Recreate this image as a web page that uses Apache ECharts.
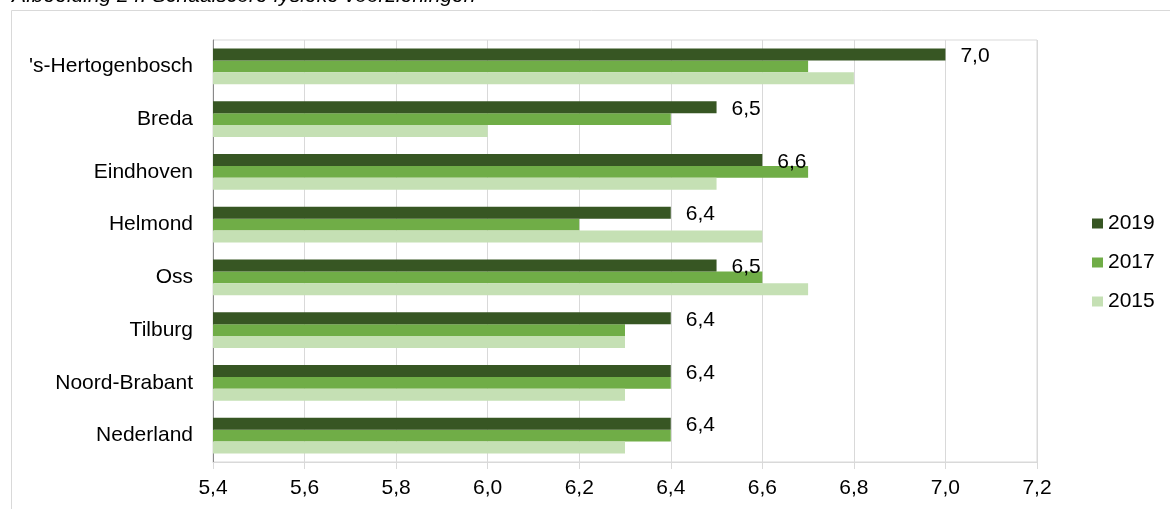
<!DOCTYPE html>
<html><head><meta charset="utf-8">
<script src="https://cdn.jsdelivr.net/npm/echarts@6/dist/echarts.min.js"></script>
<style>html,body{margin:0;padding:0;background:#fff}#c{width:1170px;height:509px}</style>
</head><body><div id="c"></div>
<script>
const categories = ["'s-Hertogenbosch", "Breda", "Eindhoven", "Helmond", "Oss", "Tilburg", "Noord-Brabant", "Nederland"];
const values2019 = [7.0, 6.5, 6.6, 6.4, 6.5, 6.4, 6.4, 6.4];
const values2017 = [6.7, 6.4, 6.7, 6.2, 6.6, 6.3, 6.4, 6.4];
const values2015 = [6.8, 6.0, 6.5, 6.6, 6.7, 6.3, 6.3, 6.3];
const seriesNames = ["2019", "2017", "2015"];
const xTicks = [5.4, 5.6, 5.8, 6.0, 6.2, 6.4, 6.6, 6.8, 7.0, 7.2];
const titleText = "Afbeelding 24: Schaalscore fysieke voorzieningen";

const FONT = "Liberation Sans, Arial, sans-serif";
const FS = 21;
const fmt = v => Number(v).toFixed(1).replace('.', ',');
const colors = ['#375623', '#70ad47', '#c5e0b4'];
const chart = echarts.init(document.getElementById('c'));
const dataSets = [values2019, values2017, values2015];
chart.setOption({
  animation: false,
  textStyle: {fontFamily: FONT},
  graphic: [
    {type: 'rect', shape: {x: 11.5, y: 10.5, width: 1300, height: 700}, style: {fill: 'none', stroke: '#d9d9d9', lineWidth: 1}, silent: true, z: -10},
    {type: 'text', left: 12, top: -14, style: {text: titleText, font: 'italic 21px ' + FONT, fill: '#000'}}
  ],
  grid: {left: 213, top: 40, width: 824, height: 422, show: true, borderColor: '#d9d9d9', borderWidth: 1, containLabel: false},
  legend: {
    orient: 'vertical', left: 1087, top: 208, itemWidth: 11, itemHeight: 10, itemGap: 18,
    icon: 'rect', data: seriesNames,
    textStyle: {fontSize: FS, color: '#000', fontFamily: FONT}
  },
  xAxis: {
    type: 'value', min: 5.4, max: 7.2, interval: 0.2,
    axisLine: {show: true, lineStyle: {color: '#d9d9d9'}},
    axisTick: {show: true, length: 7, lineStyle: {color: '#d9d9d9'}},
    splitLine: {show: true, lineStyle: {color: '#d9d9d9'}},
    axisLabel: {fontSize: FS, color: '#000', margin: 16, fontFamily: FONT,
      formatter: v => xTicks.some(t => Math.abs(t - v) < 1e-6) ? fmt(v) : ''}
  },
  yAxis: {
    type: 'category', data: categories, inverse: true,
    axisLine: {show: true, lineStyle: {color: '#898989'}},
    axisTick: {show: false},
    axisLabel: {fontSize: FS, color: '#000', margin: 20, fontFamily: FONT}
  },
  series: seriesNames.map((name, i) => ({
    name, type: 'bar', data: dataSets[i],
    barGap: '0%', barCategoryGap: '32%',
    itemStyle: {color: colors[i]},
    label: i === 0 ? {show: true, position: 'right', distance: 15, offset: [0, 2], fontSize: FS, color: '#000', fontFamily: FONT, formatter: p => fmt(p.value)} : {show: false},
    z: i === 0 ? 3 : 2
  }))
});
</script></body></html>
